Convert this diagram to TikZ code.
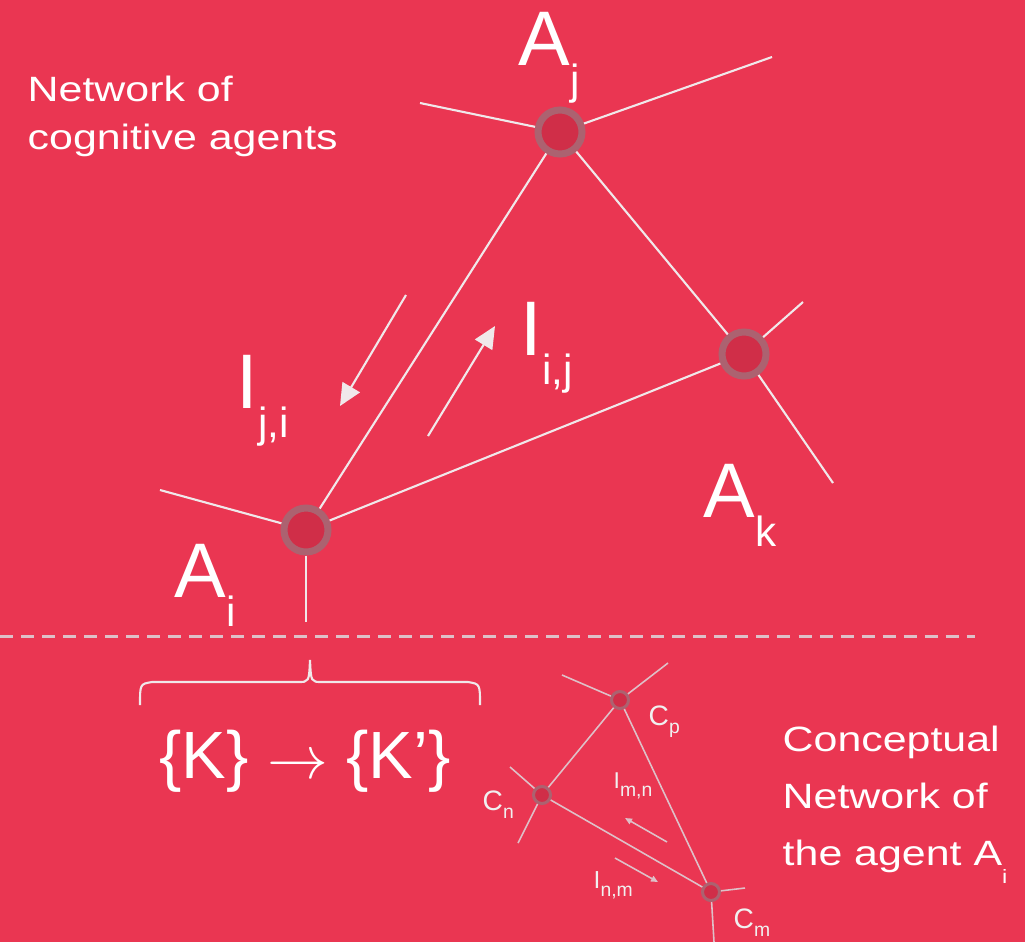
\documentclass[tikz,border=0pt]{standalone}
\usepackage{fontspec}
\setmainfont{Liberation Sans}
\newfontfamily\widefont{Liberation Sans}[FakeStretch=1.22]
\usepackage{tikz}
\usetikzlibrary{arrows.meta}
\definecolor{bgred}{RGB}{234,54,82}
\definecolor{ringgray}{RGB}{172,98,112}
\definecolor{coremid}{RGB}{208,46,72}
\definecolor{wire}{RGB}{240,232,234}
\definecolor{cwire}{RGB}{222,192,200}
\newcommand{\bigsub}[2]{#1\raisebox{-8.5pt}{\fontsize{12}{12}\selectfont #2}}
\newcommand{\tinysub}[3][-2.5pt]{#2\raisebox{#1}{\fontsize{5.5}{5.5}\selectfont #3}}
\tikzset{
  agent/.style={circle, draw=ringgray, line width=0.07cm, fill=coremid, minimum size=0.44cm, inner sep=0pt},
  concept/.style={circle, draw=ringgray, line width=0.03cm, fill=coremid, minimum size=0.17cm, inner sep=0pt},
  link/.style={draw=wire, line width=0.6pt},
  clink/.style={draw=cwire, line width=0.45pt},
  biglbl/.style={text=white, inner sep=0pt, anchor=base west, font=\fontsize{22}{22}\selectfont},
  smlbl/.style={text=white!88!gray, inner sep=0pt, anchor=base west, font=\fontsize{8}{8}\selectfont},
  note/.style={text=white, inner sep=0pt, anchor=north west, align=left},
}
\begin{document}
\begin{tikzpicture}[x=0.01cm, y=-0.01cm]
  \fill[bgred] (0,0) rectangle (1025,942);
  \useasboundingbox (0,0) rectangle (1025,942);

  % network of agents
  \node[agent] (Aj) at (560,132) {};
  \node[agent] (Ak) at (744,354) {};
  \node[agent] (Ai) at (306,530) {};
  \draw[link] (Aj) -- (Ai); \draw[link] (Aj) -- (Ak); \draw[link] (Ak) -- (Ai);
  \coordinate (jw) at (420,103); \coordinate (je) at (772,57);
  \coordinate (kn) at (803,302); \coordinate (ks) at (833,483);
  \coordinate (iw) at (160,490); \coordinate (is) at (306,622);
  \draw[link] (Aj) -- (jw); \draw[link] (Aj) -- (je);
  \draw[link] (Ak) -- (kn); \draw[link] (Ak) -- (ks);
  \draw[link] (Ai) -- (iw); \draw[link] (Ai) -- (is);

  \node[biglbl] (Ajl) at (518,65) {\bigsub{A}{j}};
  \node[biglbl] (Akl) at (703,517) {\bigsub{A}{k}};
  \node[biglbl] (Ail) at (174,597) {\bigsub{A}{i}};
  \node[biglbl] (Ijil) at (236,408) {\bigsub{I}{j,i}};
  \node[biglbl] (Iijl) at (520,355) {\bigsub{I}{i,j}};

  \coordinate (f1s) at (406,295); \coordinate (f1e) at (340,406);
  \coordinate (f2s) at (428,436); \coordinate (f2e) at (495,326);
  \draw[link, -{Triangle[length=0.22cm,width=0.2cm]}] (f1s) -- (f1e);
  \draw[link, -{Triangle[length=0.22cm,width=0.2cm]}] (f2s) -- (f2e);

  \node[note, font=\widefont\fontsize{10}{13.6}\selectfont] (title) at (27,75)
    {Network of\\cognitive agents};

  % separator and knowledge update
  \draw[cwire, line width=0.03cm, dash pattern=on 0.13cm off 0.08cm] (0,636) -- (975,636);
  \draw[link] (140,705) .. controls (140,684) .. (152,682) -- (298,682)
    .. controls (309,682) .. (310,660) .. controls (311,682) .. (322,682)
    -- (468,682) .. controls (480,684) .. (480,705);
  \node[text=white, inner sep=0pt, anchor=base, font=\fontsize{19}{19}\selectfont] (kk) at (305,778)
    {\{K\} $\rightarrow$ \{K’\}};

  % conceptual network
  \node[concept] (Cp) at (620,700) {};
  \node[concept] (Cn) at (542,795) {};
  \node[concept] (Cm) at (711,892) {};
  \draw[clink] (Cp) -- (Cn); \draw[clink] (Cp) -- (Cm); \draw[clink] (Cn) -- (Cm);
  \coordinate (pw) at (562,675); \coordinate (pe) at (668,663);
  \coordinate (nw) at (510,767); \coordinate (ns) at (518,843);
  \coordinate (me) at (745,888); \coordinate (ms) at (714,942);
  \draw[clink] (Cp) -- (pw); \draw[clink] (Cp) -- (pe);
  \draw[clink] (Cn) -- (nw); \draw[clink] (Cn) -- (ns);
  \draw[clink] (Cm) -- (me); \draw[clink] (Cm) -- (ms);

  \node[smlbl] (Cpl) at (648,725) {\tinysub{C}{p}};
  \node[smlbl] (Cnl) at (482,810) {\tinysub{C}{n}};
  \node[smlbl] (Cml) at (733,928) {\tinysub{C}{m}};
  \node[smlbl, font=\fontsize{6.5}{6.5}\selectfont] (Imnl) at (613,788) {\tinysub{I}{m,n}};
  \node[smlbl, font=\fontsize{7}{7}\selectfont] (Inml) at (593,888) {\tinysub{I}{n,m}};

  \coordinate (g1s) at (667,842); \coordinate (g1e) at (625,818);
  \coordinate (g2s) at (615,858); \coordinate (g2e) at (658,882);
  \draw[clink, -{Triangle[length=0.07cm,width=0.06cm]}] (g1s) -- (g1e);
  \draw[clink, -{Triangle[length=0.07cm,width=0.06cm]}] (g2s) -- (g2e);

  \node[note, font=\widefont\fontsize{10}{16.3}\selectfont] (cnote) at (782,725)
    {Conceptual\\Network of\\the agent \tinysub[-5pt]{A}{i}};
\end{tikzpicture}
\end{document}
